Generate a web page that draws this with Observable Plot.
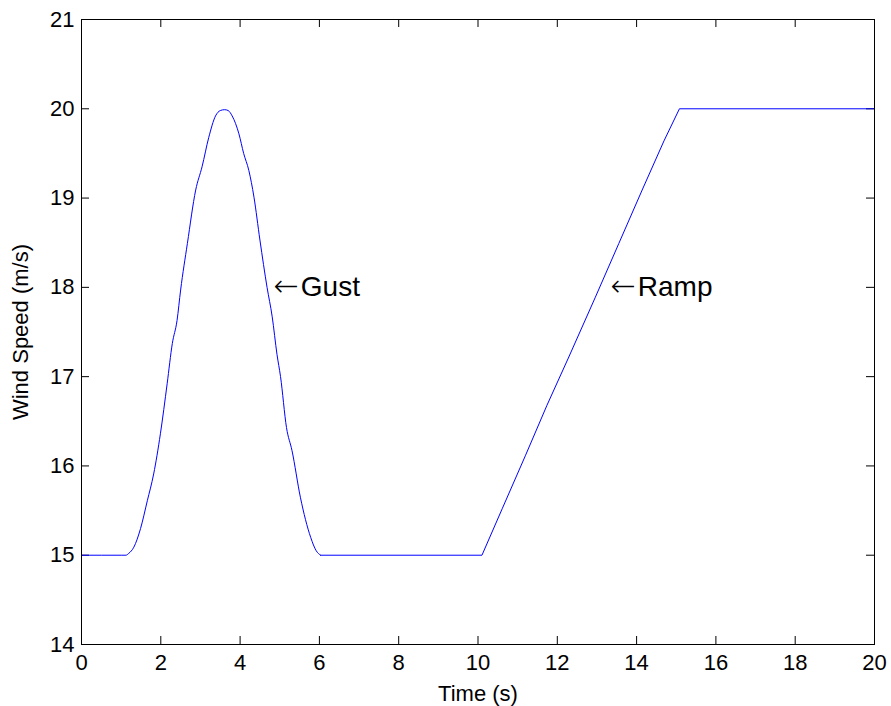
<!DOCTYPE html>
<html><head><meta charset="utf-8">
<script src="https://cdn.jsdelivr.net/npm/d3@7"></script>
<script src="https://cdn.jsdelivr.net/npm/@observablehq/plot@0.6"></script>
<style>body{margin:0;background:#fff} svg{display:block}</style>
</head><body><div id="chart"></div>
<script>
// Time (s)
const time = [0, 1.0, 1.12, 1.19, 1.32, 1.49, 1.66, 1.82, 1.99, 2.16, 2.29, 2.41, 2.50, 2.67, 2.88, 3.04, 3.21, 3.38, 3.50, 3.61, 3.70, 3.80, 3.97, 4.09, 4.22, 4.35, 4.50, 4.68, 4.81, 4.93, 5.02, 5.17, 5.31, 5.52, 5.78, 5.92, 6.03, 10.1, 10.61, 11.2, 11.74, 12.29, 12.96, 13.55, 14.14, 14.69, 15.08, 20];
// Wind speed (m/s)
const speed = [15, 15, 15.0, 15.02, 15.09, 15.30, 15.61, 15.91, 16.36, 16.92, 17.37, 17.63, 17.97, 18.49, 19.09, 19.35, 19.68, 19.92, 19.98, 19.99, 19.98, 19.92, 19.72, 19.50, 19.31, 19.01, 18.53, 18.00, 17.67, 17.25, 17.0, 16.43, 16.17, 15.65, 15.20, 15.05, 15.0, 15, 15.52, 16.12, 16.68, 17.22, 17.89, 18.49, 19.09, 19.64, 20, 20];
const xTicks = [0, 2, 4, 6, 8, 10, 12, 14, 16, 18, 20];
const yTicks = [14, 15, 16, 17, 18, 19, 20, 21];
const annTime = [4.85, 13.35];
const annSpeed = [18, 18];
const annLabel = ["Gust", "Ramp"];

const data = time.map((t, i) => ({t, v: speed[i]}));
const gust = data.filter(d => d.t <= 6.03);
const rest = data.filter(d => d.t >= 6.03);
const annotations = annTime.map((t, i) => ({t, v: annSpeed[i], label: annLabel[i]}));

const W = 891, H = 706, mL = 81, mR = 17, mT = 19, mB = 62;
const frameH = H - mT - mB, frameW = W - mL - mR, tk = 8;
const font = "'Liberation Sans', Arial, Helvetica, sans-serif";

const chart = Plot.plot({
  width: W, height: H,
  marginLeft: mL, marginRight: mR, marginTop: mT, marginBottom: mB,
  style: {fontFamily: font, background: "white", color: "black"},
  x: {domain: [0, 20]},
  y: {domain: [14, 21]},
  marks: [
    Plot.tickX(xTicks, {x: d => d, insetTop: frameH - tk, stroke: "black"}),
    Plot.tickX(xTicks, {x: d => d, insetBottom: frameH - tk, stroke: "black"}),
    Plot.tickY(yTicks, {y: d => d, insetRight: frameW - tk, stroke: "black"}),
    Plot.tickY(yTicks, {y: d => d, insetLeft: frameW - tk, stroke: "black"}),
    Plot.axisX({ticks: xTicks, tickFormat: d3.format("d"), tickSize: 0, tickPadding: 10, fontSize: 22, label: "Time (s)", labelAnchor: "center", labelArrow: "none", labelOffset: 56}),
    Plot.axisY({ticks: yTicks, tickFormat: d3.format("d"), tickSize: 0, tickPadding: 7, fontSize: 22, label: "Wind Speed (m/s)", labelAnchor: "center", labelArrow: "none", labelOffset: 69}),
    Plot.line(gust, {x: "t", y: "v", stroke: "blue", strokeWidth: 1, curve: "monotone-x"}),
    Plot.line(rest, {x: "t", y: "v", stroke: "blue", strokeWidth: 1, curve: "linear"}),
    Plot.frame({stroke: "black", strokeWidth: 1}),
    Plot.text(annotations, {x: "t", y: "v", text: () => "\u2190", textAnchor: "start", fontSize: 30, fontFamily: "'DejaVu Sans', sans-serif", fontWeight: 200, fill: "black", dy: -1}),
    Plot.text(annotations, {x: "t", y: "v", text: "label", textAnchor: "start", dx: 27, fontSize: 28, fill: "black"})
  ]
});
document.getElementById("chart").appendChild(chart);
</script>
</body></html>
